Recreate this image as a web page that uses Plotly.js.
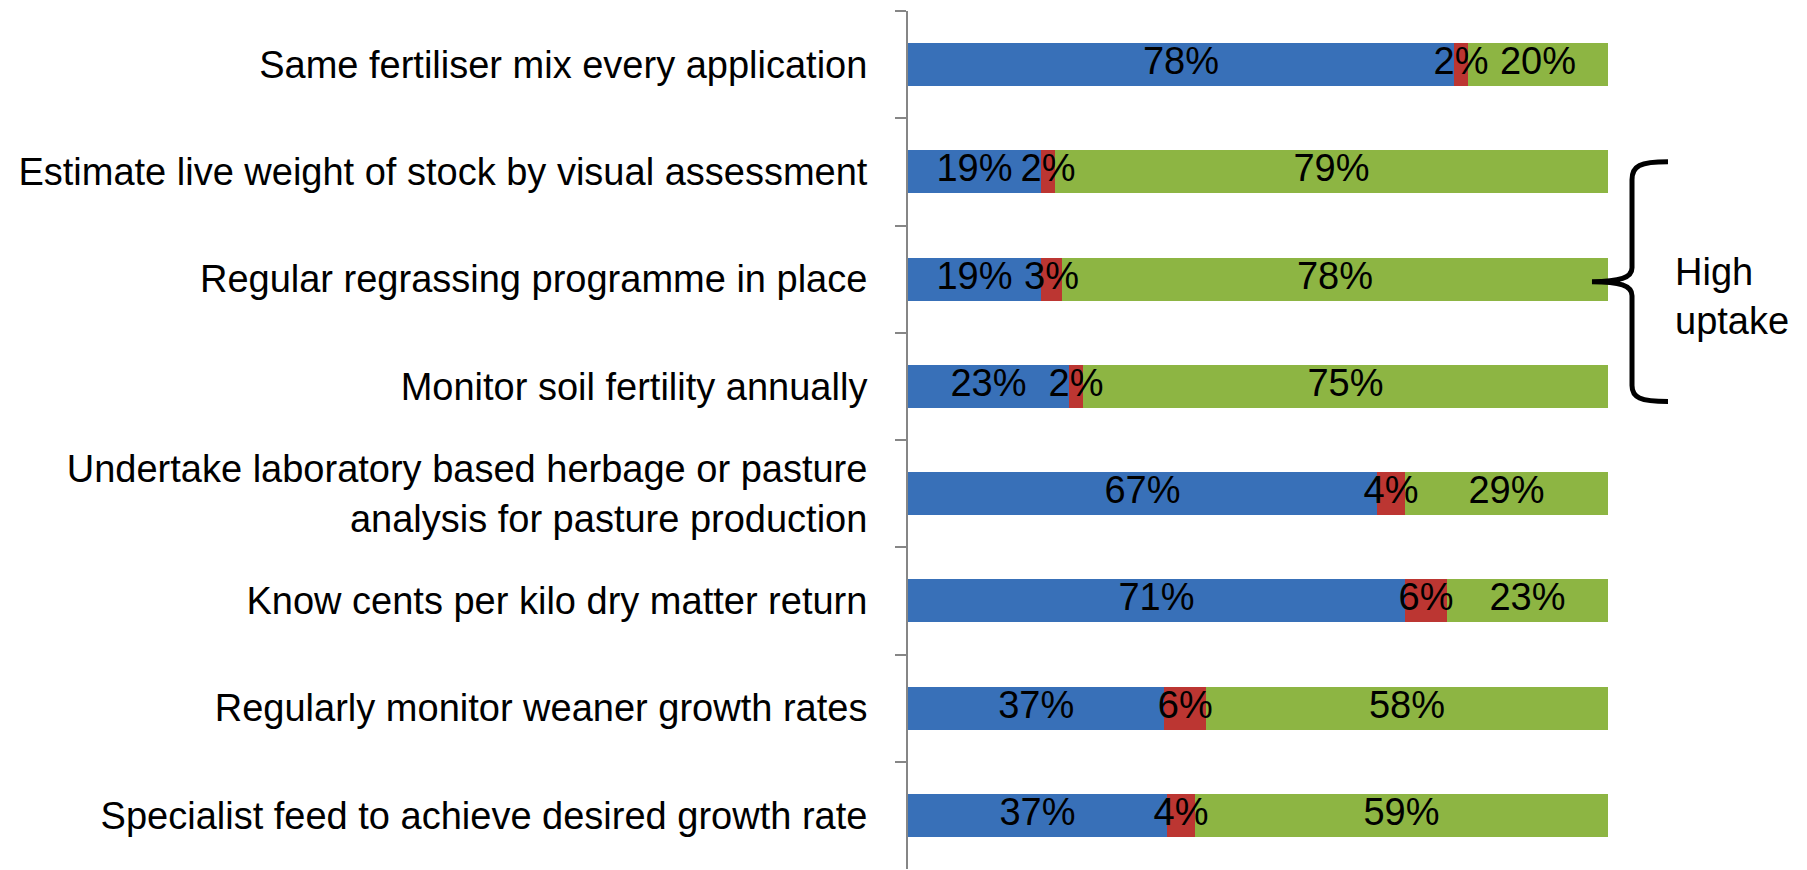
<!DOCTYPE html>
<html>
<head>
<meta charset="utf-8">
<script src="https://cdn.plot.ly/plotly-3.0.1.min.js"></script>
<style>html,body{margin:0;padding:0;background:#fff;}#chart{width:1807px;height:870px;}</style>
</head>
<body>
<div id="chart"></div>
<script>
const categories = [
  "Same fertiliser mix every application",
  "Estimate live weight of stock by visual assessment",
  "Regular regrassing programme in place",
  "Monitor soil fertility annually",
  "Undertake laboratory based herbage or pasture<br>analysis for pasture production",
  "Know cents per kilo dry matter return",
  "Regularly monitor weaner growth rates",
  "Specialist feed to achieve desired growth rate"
];
const blueValues  = [78, 19, 19, 23, 67, 71, 37, 37];
const redValues   = [2, 2, 3, 2, 4, 6, 6, 4];
const greenValues = [20, 79, 78, 75, 29, 23, 58, 59];
const bracketLabel = "High<br>uptake";

const FONT = "'Liberation Sans', Arial, sans-serif";
const FS = 38;
const colors = ["#3870B8", "#BC3632", "#8DB543"];
const series = [blueValues, redValues, greenValues];

const traces = series.map((vals, i) => ({
  type: "bar", orientation: "h", y: categories, x: vals,
  marker: {color: colors[i], line: {width: 0}},
  hoverinfo: "x+y", showlegend: false
}));

// label positions: centers of each normalized segment
series.forEach((vals, i) => {
  const xs = vals.map((v, k) => {
    const tot = blueValues[k] + redValues[k] + greenValues[k];
    let start = 0;
    for (let j = 0; j < i; j++) start += series[j][k];
    return (start + v / 2) / tot * 100;
  });
  traces.push({
    type: "scatter", mode: "text", y: categories, x: xs,
    text: vals.map(v => v + "%"), textposition: "middle center",
    textfont: {family: FONT, size: FS, color: "#000"},
    hoverinfo: "skip", showlegend: false, cliponaxis: false
  });
});

const L = 908, R = 1608, T = 11, B = 870;
const px = x => (x - L) / (R - L);
const py = y => (B - y) / (B - T);
const P = (x, y) => px(x).toFixed(4) + "," + py(y).toFixed(4);
const bracePath =
  "M" + P(1668,162) + " C" + P(1640,162) + " " + P(1632,166) + " " + P(1632,180) +
  " L" + P(1632,268) + " C" + P(1632,278) + " " + P(1620,282) + " " + P(1592,282) +
  " C" + P(1620,282) + " " + P(1632,286) + " " + P(1632,296) +
  " L" + P(1632,386) + " C" + P(1632,398) + " " + P(1640,402) + " " + P(1668,402);

const layout = {
  width: 1807, height: 870,
  margin: {l: L, r: 1807 - R, t: T, b: 1},
  paper_bgcolor: "#fff", plot_bgcolor: "#fff",
  barmode: "stack", barnorm: "percent", bargap: 0.6,
  font: {family: FONT, size: FS, color: "#000"},
  xaxis: {range: [0, 100], visible: false, fixedrange: true},
  yaxis: {
    type: "category", range: [7.5, -0.5], tickson: "boundaries",
    ticks: "outside", ticklen: 11, tickwidth: 2, tickcolor: "#868686",
    showline: true, linecolor: "#868686", linewidth: 2, showgrid: false,
    ticklabelstandoff: 31, tickfont: {family: FONT, size: FS, color: "#000"},
    fixedrange: true
  },
  shapes: [{
    type: "path", xref: "paper", yref: "paper", path: bracePath,
    line: {color: "#000", width: 5}, layer: "above"
  }],
  annotations: [{
    xref: "paper", yref: "paper", x: px(1673), y: py(297),
    xanchor: "left", yanchor: "middle", align: "left", showarrow: false,
    text: bracketLabel, font: {family: FONT, size: FS, color: "#000"}
  }]
};

Plotly.newPlot("chart", traces, layout, {displayModeBar: false, staticPlot: true});
</script>
</body>
</html>
